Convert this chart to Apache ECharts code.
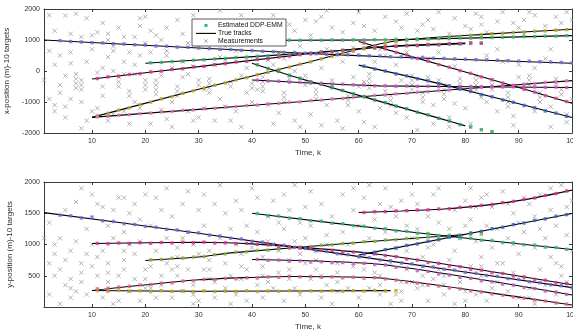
<!DOCTYPE html>
<html>
<head>
<meta charset="utf-8">
<script src="https://cdn.jsdelivr.net/npm/echarts@6/dist/echarts.min.js"></script>
<style>
html,body{margin:0;padding:0;background:#fff;}
#chart{width:573px;height:335px;}
</style>
</head>
<body>
<div id="chart"></div>
<script>
// ---- time axis ----
const timeTicks = [10, 20, 30, 40, 50, 60, 70, 80, 90, 100];
const EST_STEP = 2; // estimator output plotted every 2nd scan

// ---- x-position: true tracks, [k, metres] ----
const trueXA = [[1, 1000], [30, 740], [49, 580], [66, 450], [100, 250]];
const trueXB = [[20, 250], [30, 355], [49, 560], [66, 790], [80, 880]];
const trueXC = [[10, -258], [30, 140], [49, 525], [66, 800], [80, 900]];
const trueXD = [[10, -1495], [30, -590], [49, 215], [66, 946], [84, 1190], [100, 1345]];
const trueXE = [[10, -1495], [30, -1237], [49, -990], [64, -780], [100, -310]];
const trueXF = [[46, 990], [66, 1010], [100, 1140]];
const trueXG = [[40, 250], [49, -240], [75, -1520], [80, -1770]];
const trueXH = [[40, -290], [49, -370], [64, -480], [100, -530]];
const trueXI = [[60, 190], [75, -400], [100, -1500]];
const trueXJ = [[60, 950], [80, -30], [100, -1040]];

// ---- x-position: DDP-EMM estimates (first scan, values every EST_STEP) ----
const estXStart = { A: 4, B: 21, C: 11, D: 11, E: 11, F: 47, G: 41, H: 41, I: 61, J: 61 };
const estXA = [980, 950, 935, 915, 905, 880, 870, 845, 835, 805, 800, 770, 765, 740, 725, 700, 695, 665, 660, 635, 625, 600, 595, 570, 560, 535, 545, 525, 510, 490, 485, 460, 455, 430, 440, 410, 405, 390, 380, 365, 360, 345, 335, 320, 315, 300, 290, 275, 262];
const estXB = [265, 278, 305, 320, 348, 362, 390, 405, 435, 448, 478, 490, 520, 535, 565, 582, 618, 636, 672, 690, 726, 745, 780, 792, 812, 818, 840, 845, 865, 870, 888, 892];
const estXC = [-245, -190, -165, -110, -85, -30, -5, 48, 72, 128, 152, 208, 235, 288, 315, 370, 396, 450, 478, 530, 552, 596, 615, 660, 680, 725, 745, 790, 800, 828, 830, 856, 858, 885, 888, 910, 900];
const estXD = [-1440, -1365, -1260, -1185, -1080, -1005, -900, -825, -720, -640, -550, -458, -385, -288, -215, -120, -45, 50, 125, 220, 295, 392, 468, 565, 640, 735, 810, 880, 940, 985, 1010, 1045, 1065, 1098, 1120, 1152, 1175, 1202, 1218, 1242, 1256, 1280, 1295, 1318, 1335];
const estXE = [-1475, -1462, -1425, -1410, -1372, -1358, -1320, -1308, -1270, -1255, -1218, -1205, -1165, -1150, -1115, -1100, -1062, -1048, -1010, -995, -955, -940, -900, -884, -845, -828, -788, -772, -735, -720, -682, -668, -630, -615, -578, -562, -525, -510, -475, -458, -422, -408, -368, -355, -318];
const estXF = [995, 988, 998, 992, 1003, 996, 1006, 1000, 1010, 1004, 1018, 1016, 1032, 1033, 1048, 1046, 1064, 1060, 1072, 1080, 1086, 1095, 1108, 1110, 1125, 1124, 1140];
const estXG = [200, 80, -15, -138, -235, -345, -430, -540, -628, -738, -825, -935, -1022, -1132, -1218, -1330, -1415, -1525, -1615, -1728, -1805, -1895, -1955];
const estXH = [-295, -322, -330, -358, -365, -390, -395, -420, -425, -448, -455, -478, -478, -490, -482, -495, -488, -500, -492, -505, -498, -510, -505, -516, -510, -522, -515, -528, -522, -532];
const estXI = [155, 65, -2, -92, -158, -250, -315, -408, -482, -582, -658, -760, -832, -935, -1010, -1112, -1185, -1288, -1360, -1462];
const estXJ = [905, 795, 712, 600, 515, 405, 318, 208, 122, 12, -75, -190, -276, -392, -478, -593, -680, -795, -882, -985];

// ---- y-position: true tracks ----
const trueYA = [[1, 1510], [30, 1180], [64, 758], [100, 310]];
const trueYB = [[20, 745], [30, 800], [36, 866], [64, 1060], [80, 1160]];
const trueYC = [[10, 1015], [30, 1035], [40, 1010], [64, 840], [100, 355]];
const trueYD = [[10, 263], [30, 253], [66, 262]];
const trueYE = [[10, 263], [30, 435], [47, 489], [64, 463], [100, 32]];
const trueYG = [[40, 1500], [68, 1215], [100, 920]];
const trueYH = [[40, 760], [64, 683], [100, 193]];
const trueYI = [[60, 830], [100, 1495]];
const trueYJ = [[60, 1512], [68, 1537], [76, 1568], [84, 1630], [92, 1730], [100, 1870]];

// ---- y-position: DDP-EMM estimates ----
const estYStart = { A: 4, B: 21, C: 11, D: 11, E: 11, G: 41, H: 41, I: 61, J: 61 };
const estYA = [1470, 1458, 1425, 1438, 1380, 1368, 1334, 1320, 1290, 1276, 1243, 1232, 1198, 1186, 1150, 1137, 1101, 1088, 1051, 1038, 1001, 988, 953, 938, 902, 889, 852, 838, 803, 790, 753, 740, 704, 690, 654, 640, 605, 590, 555, 540, 505, 490, 455, 440, 405, 390, 356, 341, 308];
const estYB = [755, 760, 778, 782, 798, 808, 838, 850, 878, 884, 905, 910, 932, 938, 960, 966, 988, 994, 1016, 1022, 1044, 1050, 1070, 1076, 1096, 1100, 1120, 1126, 1146, 1150, 1165, 1168];
const estYC = [1018, 1012, 1024, 1016, 1028, 1020, 1032, 1024, 1036, 1028, 1038, 1024, 1028, 1014, 1018, 1000, 994, 972, 965, 942, 936, 912, 908, 885, 880, 856, 852, 822, 806, 768, 752, 712, 698, 658, 645, 604, 590, 550, 536, 496, 482, 442, 428, 390, 372];
const estYD = [262, 250, 266, 252, 258, 248, 262, 250, 256, 246, 258, 248, 254, 250, 260, 248, 256, 252, 262, 250, 258, 254, 262, 252, 260, 256, 264, 258, 262];
const estYE = [290, 300, 318, 330, 352, 360, 382, 388, 415, 420, 442, 440, 456, 452, 468, 464, 480, 476, 492, 482, 488, 476, 482, 468, 476, 462, 470, 450, 430, 400, 382, 352, 336, 305, 290, 258, 240, 210, 190, 162, 142, 112, 95, 65, 46];
const estYG = [1495, 1462, 1455, 1422, 1414, 1380, 1374, 1340, 1333, 1300, 1292, 1260, 1252, 1218, 1212, 1180, 1175, 1144, 1137, 1106, 1100, 1068, 1064, 1032, 1026, 996, 990, 958, 952, 922];
const estYH = [762, 748, 750, 734, 738, 720, 724, 710, 712, 694, 698, 680, 672, 636, 622, 582, 568, 528, 512, 474, 458, 420, 404, 366, 350, 312, 296, 256, 240, 202];
const estYI = [850, 876, 918, 942, 985, 1010, 1052, 1076, 1118, 1142, 1185, 1210, 1252, 1276, 1318, 1344, 1386, 1410, 1452, 1478];
const estYJ = [1512, 1524, 1525, 1538, 1540, 1552, 1553, 1568, 1572, 1594, 1604, 1626, 1640, 1670, 1690, 1720, 1745, 1785, 1815, 1856];

// ---- raw measurements (targets + clutter), [k, metres] ----
const measX = [
 [2,1800],[5,1790],[7,1850],[9,1700],[3,1300],[6,1200],[8,1100],[2,650],[4,500],[6,600],[3,200],[5,-150],[7,-100],[7,-250],[7,-400],[7,-550],[4,-700],[2,-900],[6,-900],[8,-1000],[3,-1300],[5,-1500],[9,-1600],[8,-1850],[1,-300],[9,300],[10,700],[10,1150],[6,250],[4,-450],[8,-300],[8,-450],[8,-600],[3,-1100],[5,-1150],[10,-1300],
 [11,1250],[12,1550],[13,1000],[13,1200],[14,800],[14,650],[15,1400],[15,-200],[15,-350],[15,-500],[16,1100],[16,300],[17,600],[17,-650],[17,-800],[18,1100],[18,-100],[18,200],[18,-1000],[19,1450],[19,1700],[20,1750],[20,-300],[20,-450],[20,-600],[12,-500],[12,-800],[11,-1200],[13,-1600],[14,-1400],[16,-1300],[19,-1200],[17,-1700],[12,100],[14,0],[16,-100],[11,-50],[13,450],[20,900],[19,500],
 [21,1300],[22,1150],[23,1000],[24,1400],[22,-300],[22,-450],[22,-600],[22,-750],[23,-150],[24,500],[24,650],[25,-1000],[25,100],[26,-500],[26,-650],[26,-800],[27,1200],[27,300],[28,-1300],[28,900],[29,-1600],[29,1800],[30,1100],[30,-300],[30,-450],[30,-1500],[21,-1700],[23,-1250],[25,-1800],[27,-200],[28,-100],[26,1650],[24,-1550],[21,600],[29,150],
 [31,1300],[31,-600],[32,-250],[32,-400],[32,-550],[32,-700],[33,1550],[33,200],[34,1950],[34,-900],[35,-1150],[35,800],[36,1200],[36,-350],[36,-500],[37,1500],[37,-1300],[38,900],[38,-150],[38,-1800],[39,1150],[39,-700],[40,1500],[40,-400],[40,-550],[40,-1000],[33,-1600],[35,350],[37,650],[39,100],[31,-1200],[34,450],[36,-1600],[38,1800],
 [41,1550],[41,-600],[42,-200],[42,-350],[42,-500],[42,-650],[43,1250],[43,-1100],[44,200],[44,1800],[45,-1350],[45,600],[46,-700],[46,-850],[46,-1000],[47,1500],[47,-250],[48,1300],[48,-1600],[49,800],[49,-1800],[50,1650],[50,-150],[50,-300],[50,-450],[44,-1700],[46,400],[48,0],[43,350],[41,1000],
 [51,1150],[52,-600],[52,-750],[52,-900],[53,1750],[53,100],[54,-1100],[54,700],[55,1400],[55,-300],[55,-450],[56,-1600],[57,1250],[57,300],[58,-800],[58,-950],[58,-1100],[59,1550],[59,-200],[60,1900],[60,-1300],[60,-500],[51,-1400],[53,-1750],[56,500],[59,750],[54,1950],[57,-1850],[52,1600],
 [61,1450],[61,-350],[62,-100],[62,-250],[62,-400],[62,-550],[63,1300],[63,-1800],[64,700],[64,-1200],[65,1750],[65,-650],[66,-800],[66,-950],[66,-1100],[67,1600],[67,200],[68,-300],[68,1400],[69,-1500],[69,1850],[70,-150],[70,-300],[70,-450],[70,-600],[63,300],[65,500],[67,-1350],[69,600],[61,-1650],
 [71,1300],[72,1500],[72,-700],[72,-850],[72,-1000],[73,1650],[73,-200],[74,1350],[74,-1100],[75,1900],[75,-300],[76,-450],[76,-600],[76,-750],[76,-900],[77,1200],[77,-1500],[78,1700],[78,150],[79,-250],[79,-400],[79,-550],[80,1450],[80,-1200],[71,-1900],[73,400],[75,600],[77,-1800],[74,-1700],[78,-1050],
 [81,1350],[82,1850],[82,-150],[82,-300],[82,-450],[82,-600],[83,1500],[83,-850],[84,1250],[84,-1000],[85,-300],[85,-450],[85,-600],[86,1600],[86,-1300],[87,1900],[87,300],[88,-700],[88,-850],[88,-1000],[88,-1150],[89,1550],[89,-1450],[90,1400],[90,200],[90,-200],[81,-1700],[84,500],[86,700],[89,-1750],[83,1750],
 [91,1650],[91,-500],[92,-150],[92,-300],[92,-450],[93,1800],[93,-1300],[94,-700],[94,-850],[94,-1000],[95,1450],[95,400],[96,-1800],[96,-1150],[97,1750],[97,-250],[97,-400],[98,1550],[98,-600],[98,-750],[99,1900],[99,-1400],[100,1650],[100,-900],[91,1200],[93,100],[96,700],[99,-1650],[92,1900]
];
const measY = [
 [2,1350],[3,1000],[3,850],[4,1100],[4,600],[5,1550],[5,350],[6,900],[6,450],[6,300],[6,150],[7,1680],[7,1050],[8,1900],[8,700],[8,550],[8,400],[9,1250],[9,200],[10,1000],[10,650],[2,200],[3,500],[4,50],[5,750],[7,250],[9,850],[1,1100],[10,1800],[2,700],
 [11,1650],[11,500],[12,900],[12,150],[13,1300],[13,700],[13,550],[13,400],[14,1100],[14,50],[15,1750],[15,500],[16,1750],[16,1200],[16,900],[16,750],[16,600],[17,250],[18,1650],[18,450],[19,1050],[19,100],[20,1800],[20,600],[20,450],[20,300],[12,1600],[14,1550],[17,1000],[18,850],[11,800],[19,1400],[15,100],[17,1500],
 [21,1300],[21,650],[22,900],[22,150],[23,1550],[23,500],[23,350],[24,1100],[24,700],[25,1450],[25,150],[26,950],[26,800],[26,650],[26,500],[27,1650],[27,250],[28,1200],[28,600],[29,1000],[29,350],[29,200],[29,50],[30,1550],[30,850],[22,1750],[24,1900],[27,1100],[21,300],[25,600],[28,1850],[30,100],
 [31,1300],[31,600],[32,900],[32,750],[32,600],[32,450],[33,1650],[33,150],[34,1950],[34,1100],[35,700],[35,300],[36,1250],[36,500],[37,1000],[37,200],[38,1550],[38,850],[38,650],[38,450],[39,1300],[39,100],[40,1900],[40,950],[31,1800],[33,400],[35,1500],[37,1700],[39,600],[36,50],
 [41,1200],[41,350],[42,800],[42,650],[42,500],[42,150],[43,1450],[43,1050],[44,1700],[44,300],[45,900],[45,550],[46,1250],[46,100],[47,1550],[47,750],[47,600],[47,450],[48,1950],[48,1050],[49,1350],[49,200],[50,1100],[50,700],[44,1000],[41,1750],[43,400],[45,1350],[46,1800],[48,300],[49,850],[50,1600],
 [51,1300],[51,450],[52,900],[52,750],[52,600],[53,1650],[53,150],[54,1150],[54,350],[55,1450],[55,900],[56,700],[56,550],[56,400],[56,250],[57,1200],[57,1800],[58,1000],[58,300],[59,1550],[59,650],[60,1300],[60,150],[53,500],[55,50],[57,850],[59,1900],[51,1850],[54,1000],
 [61,1750],[61,600],[62,1100],[62,300],[63,1400],[63,850],[64,1650],[64,500],[64,350],[64,200],[65,1200],[65,1900],[66,700],[66,50],[67,1450],[67,950],[68,1700],[68,400],[68,250],[68,100],[69,1300],[69,600],[70,1800],[70,1100],[62,1950],[63,550],[66,1600],[67,200],[69,900],[70,400],
 [71,1250],[71,1650],[72,800],[72,650],[72,500],[72,350],[73,1450],[73,100],[74,1000],[74,1800],[75,1350],[75,600],[76,200],[76,350],[76,500],[77,1250],[77,750],[78,1550],[78,900],[79,1100],[79,400],[80,1700],[80,250],[80,100],[71,300],[73,950],[75,1900],[78,50],[80,1300],[74,450],
 [81,1400],[81,650],[82,1050],[82,200],[83,1750],[83,800],[83,650],[83,500],[84,1300],[84,100],[85,1600],[85,950],[86,1250],[86,400],[87,1850],[87,700],[88,1100],[88,250],[89,1500],[89,550],[90,1350],[90,850],[90,150],[81,1900],[84,1800],[86,700],[88,1650],[82,1600],[85,300],[89,1000],
 [91,1200],[91,450],[92,1650],[92,300],[92,150],[93,1450],[93,950],[94,1800],[94,600],[95,1100],[95,350],[96,1550],[96,800],[97,1300],[97,200],[98,1950],[98,650],[98,500],[99,1150],[99,400],[100,1700],[100,900],[93,50],[96,1900],[91,1750],[94,1250],[97,700],[99,1600]
];

// ---- styling ----
const FONT = '"Liberation Sans", Arial, Helvetica, sans-serif';
const AXIS_COLOR = '#3a3a3a';
const LABEL_COLOR = '#303030';
const MEAS_COLOR = '#959595';
const LEGEND_DOT = '#1fbf8a';
const xPosColors = { A: '#6f66dc', B: '#2bb874', C: '#e02c96', D: '#b8a420', E: '#e070bd', F: '#2fb870', G: '#249a58', H: '#cc4fcc', I: '#3c5fc8', J: '#e04096' };
const yPosColors = { A: '#6f66dc', B: '#86b03a', C: '#e02c96', D: '#b8a420', E: '#e05a86', G: '#2fb870', H: '#c255c6', I: '#3c5fc8', J: '#e02c96' };
const CROSS = 'path://M0,0L10,10M10,0L0,10';

function trackSeries(data, xi, yi) {
  return {
    type: 'line', name: 'True tracks', xAxisIndex: xi, yAxisIndex: yi,
    data: data, showSymbol: false, smooth: 0.2, silent: true, z: 3,
    lineStyle: { color: '#000', width: 1.1 }
  };
}
function estSeries(start, vals, color, xi, yi) {
  return {
    type: 'scatter', name: 'Estimated DDP-EMM', xAxisIndex: xi, yAxisIndex: yi,
    data: vals.map((v, i) => [start + EST_STEP * i, v]),
    symbol: 'rect', symbolSize: 3.4, silent: true, z: 4,
    itemStyle: { color: color }
  };
}
function measSeries(data, xi, yi) {
  return {
    type: 'scatter', name: 'Measurements', xAxisIndex: xi, yAxisIndex: yi,
    data: data, symbol: CROSS, symbolSize: 4.3, silent: true, z: 2,
    itemStyle: { color: 'rgba(0,0,0,0)', borderColor: MEAS_COLOR, borderWidth: 0.9 }
  };
}

const xTracks = { A: trueXA, B: trueXB, C: trueXC, D: trueXD, E: trueXE, F: trueXF, G: trueXG, H: trueXH, I: trueXI, J: trueXJ };
const xEst = { A: estXA, B: estXB, C: estXC, D: estXD, E: estXE, F: estXF, G: estXG, H: estXH, I: estXI, J: estXJ };
const yTracks = { A: trueYA, B: trueYB, C: trueYC, D: trueYD, E: trueYE, G: trueYG, H: trueYH, I: trueYI, J: trueYJ };
const yEst = { A: estYA, B: estYB, C: estYC, D: estYD, E: estYE, G: estYG, H: estYH, I: estYI, J: estYJ };

const series = [measSeries(measX, 0, 0), measSeries(measY, 2, 2)];
Object.keys(xTracks).forEach(id => series.push(trackSeries(xTracks[id], 0, 0)));
Object.keys(yTracks).forEach(id => series.push(trackSeries(yTracks[id], 2, 2)));
Object.keys(xEst).forEach(id => series.push(estSeries(estXStart[id], xEst[id], xPosColors[id], 0, 0)));
Object.keys(yEst).forEach(id => series.push(estSeries(estYStart[id], yEst[id], yPosColors[id], 2, 2)));

const plainNumber = v => String(v);

function timeAxis(grid, pos, named) {
  return {
    gridIndex: grid, type: 'value', min: 1, max: 100, position: pos,
    name: named ? 'Time, k' : '', nameLocation: 'middle', nameGap: 16,
    nameTextStyle: { fontSize: 8, color: LABEL_COLOR, fontFamily: FONT },
    axisLine: { onZero: false, lineStyle: { color: AXIS_COLOR, width: 1 } },
    axisTick: { show: true, inside: true, length: 3, customValues: timeTicks, lineStyle: { color: AXIS_COLOR, width: 1 } },
    axisLabel: { show: named, customValues: timeTicks, formatter: plainNumber, fontSize: 7, color: LABEL_COLOR, fontFamily: FONT, margin: 5 },
    splitLine: { show: false }
  };
}
function valueAxis(grid, pos, min, max, step, name) {
  return {
    gridIndex: grid, type: 'value', min: min, max: max, interval: step, position: pos,
    name: name || '', nameLocation: 'middle', nameGap: 26, nameRotate: 90,
    nameTextStyle: { fontSize: 8, color: LABEL_COLOR, fontFamily: FONT },
    axisLine: { onZero: false, lineStyle: { color: AXIS_COLOR, width: 1 } },
    axisTick: { show: true, inside: true, length: 3, lineStyle: { color: AXIS_COLOR, width: 1 } },
    axisLabel: { show: !!name, showMinLabel: min !== 0, formatter: plainNumber, fontSize: 7, color: LABEL_COLOR, fontFamily: FONT, margin: 4 },
    splitLine: { show: false }
  };
}

// legend box drawn inside the upper panel
const legendBox = { x: 192, y: 19, w: 94, h: 27 };
const legendItems = ['Estimated DDP-EMM', 'True tracks', 'Measurements'];
const lgRows = [25.5, 33.4, 41];
const graphic = [
  { type: 'rect', shape: { x: legendBox.x, y: legendBox.y, width: legendBox.w, height: legendBox.h }, style: { fill: '#fff', stroke: '#333', lineWidth: 0.8 }, z: 100 },
  { type: 'rect', shape: { x: 204.5, y: lgRows[0] - 1.5, width: 3, height: 3 }, style: { fill: LEGEND_DOT }, z: 101 },
  { type: 'line', shape: { x1: 196, y1: lgRows[1], x2: 216, y2: lgRows[1] }, style: { stroke: '#000', lineWidth: 1.1 }, z: 101 },
  { type: 'polyline', shape: { points: [[204.3, lgRows[2] - 1.7], [207.7, lgRows[2] + 1.7]] }, style: { stroke: MEAS_COLOR, lineWidth: 0.8, fill: null }, z: 101 },
  { type: 'polyline', shape: { points: [[207.7, lgRows[2] - 1.7], [204.3, lgRows[2] + 1.7]] }, style: { stroke: MEAS_COLOR, lineWidth: 0.8, fill: null }, z: 101 }
];
legendItems.forEach((t, i) => graphic.push({
  type: 'text', x: 218, y: lgRows[i], z: 101,
  style: { text: t, fill: '#111', fontSize: 6.8, fontFamily: FONT, verticalAlign: 'middle', align: 'left' }
}));

const chart = echarts.init(document.getElementById('chart'), null, { renderer: 'canvas' });
chart.setOption({
  animation: false,
  backgroundColor: '#fff',
  grid: [
    { left: 44, right: 1, top: 9, height: 124, containLabel: false, outerBoundsMode: 'none' },
    { left: 44, right: 1, top: 182, height: 125, containLabel: false, outerBoundsMode: 'none' }
  ],
  xAxis: [timeAxis(0, 'bottom', true), timeAxis(0, 'top', false), timeAxis(1, 'bottom', true), timeAxis(1, 'top', false)],
  yAxis: [
    valueAxis(0, 'left', -2000, 2000, 1000, 'x-position (m)-10 targets'),
    valueAxis(0, 'right', -2000, 2000, 1000, ''),
    valueAxis(1, 'left', 0, 2000, 500, 'y-position (m)-10 targets'),
    valueAxis(1, 'right', 0, 2000, 500, '')
  ],
  series: series,
  graphic: graphic
});
</script>
</body>
</html>
